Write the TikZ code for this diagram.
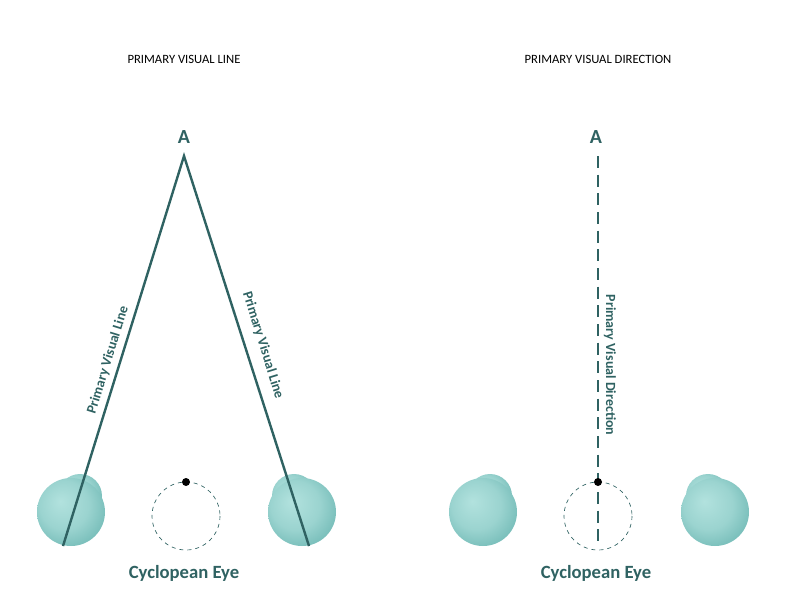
\documentclass[tikz,border=0pt]{standalone}
\usepackage{fontspec}
\setmainfont{Carlito}
\definecolor{tl}{RGB}{47,98,98}
\definecolor{eyeA}{RGB}{178,226,222}
\definecolor{eyeB}{RGB}{120,190,186}
\pgfdeclareradialshading{eyesh}{\pgfpoint{-8bp}{8bp}}{color(0bp)=(eyeA); color(18bp)=(eyeA!60!eyeB); color(30bp)=(eyeB); color(50bp)=(eyeB!85!black)}
\begin{document}
\begin{tikzpicture}[x=0.75pt,y=-0.75pt,
  title/.style={font=\fontsize{9.5}{11}\selectfont},
  bigA/.style={font=\bfseries\fontsize{15}{17}\selectfont,text=tl},
  lab/.style={font=\bfseries\fontsize{10.5}{12}\selectfont,text=tl},
  cyc/.style={font=\bfseries\fontsize{14}{16}\selectfont,text=tl},
  ray/.style={draw=tl,line width=1.8pt},
  eyeball/.style={shading=eyesh,draw=none},
  cyccirc/.style={draw=tl,dashed,line width=0.5pt},
  dotp/.style={circle,fill=black,inner sep=0pt,minimum size=6pt}]
\useasboundingbox (0,0) rectangle (807,615);
% eyes
\foreach \cx/\bx in {71/80, 302/294, 483/490, 715/708}{
  \shade[eyeball] (\bx,496) circle (22);
  \shade[eyeball] (\cx,512) circle (34);
}
\node[title] (t1) at (184,59) {PRIMARY VISUAL LINE};
\node[title] (t2) at (598,59) {PRIMARY VISUAL DIRECTION};
\node[bigA] (A1) at (184,137) {A};
\node[bigA] (A2) at (596,137) {A};
\coordinate (apex) at (184,156);
\coordinate (l1) at (63,546);
\coordinate (r1) at (309,546);
\draw[ray] (l1) -- (apex) -- (r1);
\node[lab,rotate=72.8] (pl1) at (108,360) {Primary Visual Line};
\node[lab,rotate=-72.8] (pl2) at (263,345) {Primary Visual Line};
\draw[cyccirc] (186,516) circle (34);
\node[dotp] (d1) at (186,482) {};
\coordinate (top2) at (598,156);
\coordinate (bot2) at (598,546);
\draw[ray,dash pattern=on 9pt off 5pt] (top2) -- (bot2);
\node[lab,rotate=-90] (pd) at (610,365) {Primary Visual Direction};
\draw[cyccirc] (598,516) circle (34);
\node[dotp] (d2) at (598,482) {};
\node[cyc] (c1) at (184,573) {Cyclopean Eye};
\node[cyc] (c2) at (596,573) {Cyclopean Eye};
\end{tikzpicture}
\end{document}
